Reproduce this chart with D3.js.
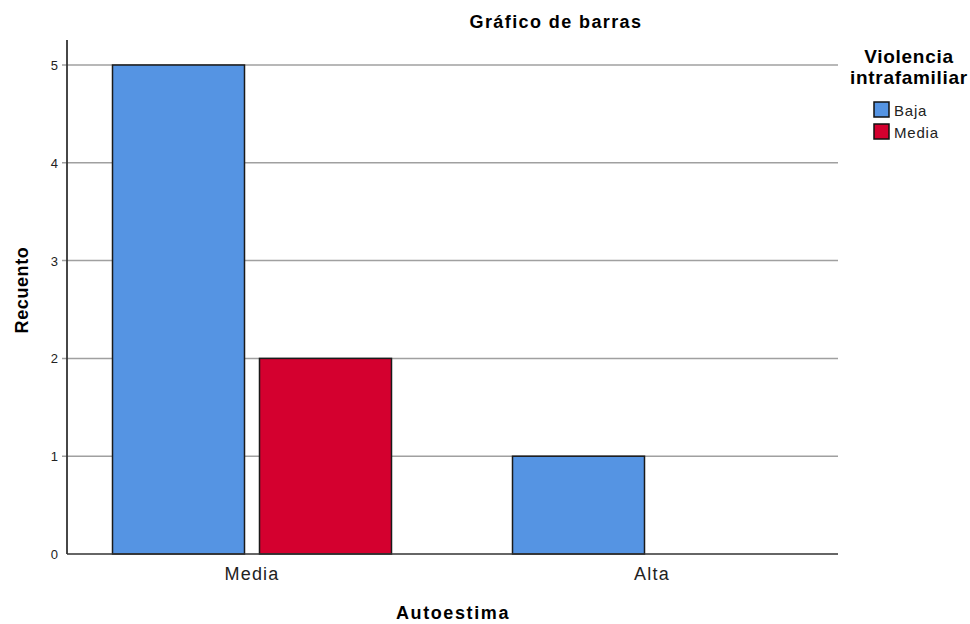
<!DOCTYPE html>
<html lang="es">
<head>
<meta charset="UTF-8">
<title>Gráfico de barras</title>
<script src="https://d3js.org/d3.v7.min.js"></script>
<style>
	body { margin: 0; background: #fff; }
	text { font-family: "Liberation Sans", Arial, sans-serif; }
</style>
</head>
<body>
<div id="chart"></div>
<script>
// data
const categories = ["Media", "Alta"];
const groups = ["Baja", "Media"];
const counts = {
	Baja:  [5, 1],
	Media: [2, 0]
};
const yTicks = [0, 1, 2, 3, 4, 5];
const colors = ["#5594e3", "#d4002f"];

const W = 970, H = 624;
const svg = d3.select("#chart").append("svg")
	.attr("width", W)
	.attr("height", H);

// plot area
const plotLeft = 67, plotRight = 838, plotTop = 40, plotBottom = 554;

const y = d3.scaleLinear().domain([0, 5]).range([plotBottom, 65]);

const x = d3.scaleBand().domain(categories).range([52, 852]);
const xs = d3.scaleBand().domain(groups).range([-139.5, 139.5]).paddingInner(0.102);

// grid lines
svg.append("g").selectAll("line")
	.data(yTicks.filter(d => d > 0))
	.enter().append("line")
		.attr("x1", plotLeft - 5)
		.attr("x2", plotRight)
		.attr("y1", d => y(d))
		.attr("y2", d => y(d))
		.attr("stroke", "#a0a0a0")
		.attr("stroke-width", 1.5);

// y tick labels
svg.append("g").selectAll("text")
	.data(yTicks)
	.enter().append("text")
		.attr("x", 58)
		.attr("y", d => y(d) + 5)
		.attr("text-anchor", "end")
		.attr("font-size", "13px")
		.attr("fill", "#222")
		.text(d => d);

// bars
const rows = [];
categories.forEach((c, i) => {
	groups.forEach(g => {
		if (counts[g][i] > 0) rows.push({cat: c, grp: g, val: counts[g][i]});
	});
});

svg.append("g").selectAll("rect")
	.data(rows)
	.enter().append("rect")
		.attr("x", d => x(d.cat) + x.bandwidth() / 2 + xs(d.grp))
		.attr("y", d => y(d.val))
		.attr("width", xs.bandwidth())
		.attr("height", d => y(0) - y(d.val))
		.attr("fill", d => colors[groups.indexOf(d.grp)])
		.attr("stroke", "#1a1a1a")
		.attr("stroke-width", 1.5);

// axes lines
svg.append("line")
	.attr("x1", plotLeft).attr("x2", plotLeft)
	.attr("y1", plotTop).attr("y2", plotBottom)
	.attr("stroke", "#333").attr("stroke-width", 1.8);
svg.append("line")
	.attr("x1", plotLeft).attr("x2", plotRight)
	.attr("y1", plotBottom).attr("y2", plotBottom)
	.attr("stroke", "#333").attr("stroke-width", 1.5);

// x tick labels
svg.append("g").selectAll("text")
	.data(categories)
	.enter().append("text")
		.attr("x", d => x(d) + x.bandwidth() / 2)
		.attr("y", 580)
		.attr("text-anchor", "middle")
		.attr("font-size", "18px")
		.attr("letter-spacing", "1.2px")
		.attr("fill", "#222")
		.text(d => d);

// titles
svg.append("text")
	.attr("x", 556).attr("y", 28)
	.attr("text-anchor", "middle")
	.attr("font-size", "18px")
	.attr("letter-spacing", "1.4px")
	.attr("font-weight", "bold")
	.text("Gráfico de barras");

svg.append("text")
	.attr("x", 453).attr("y", 619)
	.attr("text-anchor", "middle")
	.attr("font-size", "18px")
	.attr("letter-spacing", "1.6px")
	.attr("font-weight", "bold")
	.text("Autoestima");

svg.append("text")
	.attr("transform", "translate(28,290) rotate(-90)")
	.attr("text-anchor", "middle")
	.attr("font-size", "18px")
	.attr("letter-spacing", "0.6px")
	.attr("font-weight", "bold")
	.text("Recuento");

// legend
const legend = svg.append("g");
legend.append("text")
	.attr("x", 909).attr("y", 63)
	.attr("text-anchor", "middle")
	.attr("font-size", "19px")
	.attr("letter-spacing", "0.7px")
	.attr("font-weight", "bold")
	.text("Violencia");
legend.append("text")
	.attr("x", 909).attr("y", 84)
	.attr("text-anchor", "middle")
	.attr("font-size", "19px")
	.attr("letter-spacing", "0.7px")
	.attr("font-weight", "bold")
	.text("intrafamiliar");

const items = legend.selectAll("g.item")
	.data(groups)
	.enter().append("g")
		.attr("class", "item")
		.attr("transform", (d, i) => "translate(874," + (102 + i * 22) + ")");
items.append("rect")
	.attr("width", 15).attr("height", 15)
	.attr("fill", (d, i) => colors[i])
	.attr("stroke", "#111")
	.attr("stroke-width", 1.5);
items.append("text")
	.attr("x", 20).attr("y", 14)
	.attr("font-size", "15px")
	.attr("letter-spacing", "0.8px")
	.attr("fill", "#222")
	.text(d => d);
</script>
</body>
</html>
